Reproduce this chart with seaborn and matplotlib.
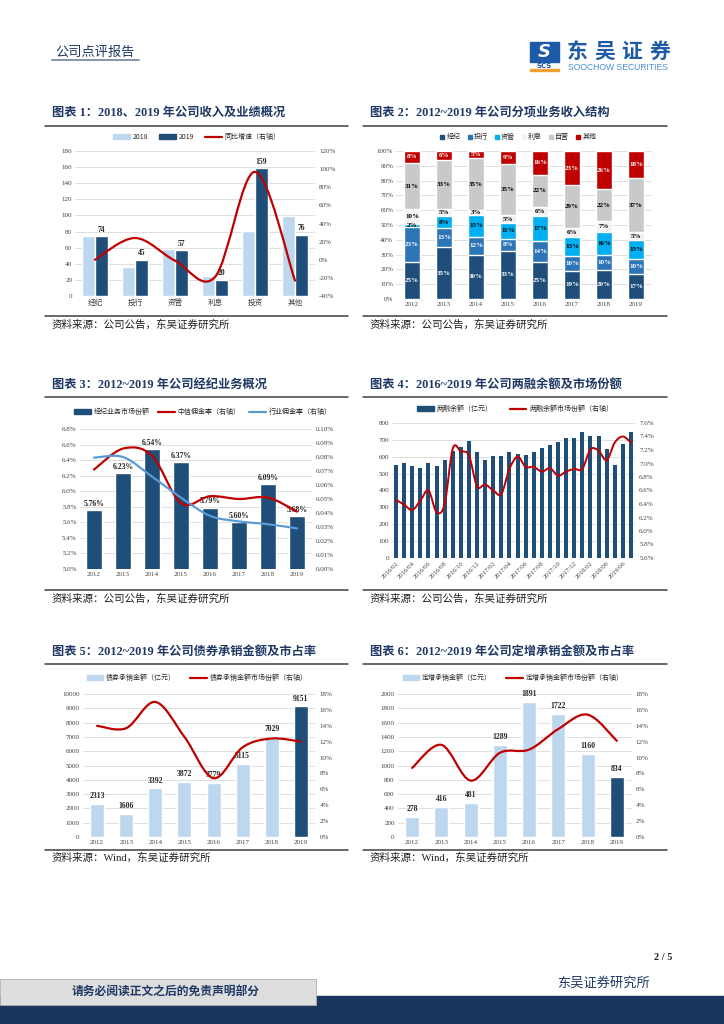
import numpy as np
import pandas as pd
import matplotlib
matplotlib.use("Agg")
import matplotlib.pyplot as plt
import seaborn as sns
from matplotlib.path import Path
from matplotlib.patches import PathPatch, Rectangle, Patch
from matplotlib.lines import Line2D

# ---- data ----
cats1 = ['经纪', '投行', '资管', '利息', '投资', '其他']
rev2018 = [75, 36, 58, 25, 81, 99]
rev2019 = [74, 45, 57, 20, 159, 76]
yoy1 = [0, 24, -1, -19, 97, -23]

years = ['2012', '2013', '2014', '2015', '2016', '2017', '2018', '2019']
mix_names = ['经纪', '投行', '资管', '利息', '自营', '其他']
mix_jingji = [25, 35, 30, 33, 25, 19, 20, 17]
mix_touhang = [23, 13, 12, 8, 14, 10, 10, 10]
mix_ziguan = [2, 8, 15, 11, 17, 13, 16, 13]
mix_lixi = [10, 5, 3, 5, 6, 6, 7, 5]
mix_ziying = [31, 33, 35, 35, 22, 29, 22, 37]
mix_qita = [8, 6, 5, 9, 16, 23, 26, 18]

share3 = [5.76, 6.23, 6.54, 6.37, 5.79, 5.60, 6.09, 5.68]
citic_comm = [0.071, 0.086, 0.081, 0.047, 0.052, 0.050, 0.051, 0.041]
ind_comm = [0.0795, 0.080, 0.066, 0.051, 0.038, 0.034, 0.032, 0.029]

dates4 = ['2016/02', '2016/03', '2016/04', '2016/05', '2016/06', '2016/07', '2016/08',
          '2016/09', '2016/10', '2016/11', '2016/12', '2017/01', '2017/02', '2017/03',
          '2017/04', '2017/05', '2017/06', '2017/07', '2017/08', '2017/09', '2017/10',
          '2017/11', '2017/12', '2018/01', '2018/02', '2018/03', '2018/06', '2018/12',
          '2019/06', '2019/09']
margin_bal = [553, 563, 543, 535, 563, 545, 583, 632, 658, 692, 630, 583, 603, 607, 627,
              619, 613, 627, 652, 672, 686, 711, 711, 749, 721, 721, 648, 553, 676, 747]
margin_share = [6.46, 6.39, 6.31, 6.45, 6.60, 6.28, 6.40, 7.22, 7.18, 7.12, 6.66, 6.69,
                6.60, 6.55, 6.92, 7.10, 6.95, 6.95, 6.88, 6.93, 6.82, 6.88, 6.92, 6.92,
                7.21, 7.19, 7.05, 7.31, 7.40, 7.31]

bond_amt = [2313, 1606, 3392, 3872, 3779, 5115, 7029, 9151]
bond_share = [14.0, 13.7, 17.0, 12.6, 7.4, 11.3, 12.4, 12.0]

pp_amt = [278, 416, 481, 1289, 1891, 1722, 1160, 834]
pp_share = [8.7, 11.6, 7.1, 10.6, 11.0, 13.6, 15.4, 12.1]

# ---- style ----
DARK = '#1f4e79'
LIGHT = '#bdd7ee'
RED = '#c00000'
LBLUE = '#5b9bd5'
TITLE = '#1f3864'
MIX_COLORS = ['#1f4e79', '#2e75b6', '#00b0f0', '#f2f2f2', '#c9c9c9', '#c00000']
CJK = ['Noto Sans CJK SC', 'DejaVu Sans']
SERIF = ['Liberation Serif', 'Noto Sans CJK SC']

sns.set_style('white')
plt.rcParams['font.family'] = SERIF
plt.rcParams['axes.unicode_minus'] = False

W, H = 724, 1024
fig = plt.figure(figsize=(7.24, 10.24), dpi=100)


def px_axes(x0, y0, x1, y1):
    return fig.add_axes([x0 / W, 1 - y1 / H, (x1 - x0) / W, (y1 - y0) / H])


def hline(x0, x1, y, color='#404040', lw=1.0):
    fig.add_artist(Line2D([x0 / W, x1 / W], [1 - y / H, 1 - y / H],
                          transform=fig.transFigure, color=color, lw=lw))


def ftext(x, y, s, **kw):
    fig.text(x / W, 1 - y / H, s, **kw)


def style(ax, grid=True):
    for sp in ax.spines.values():
        sp.set_visible(False)
    ax.tick_params(axis='both', length=0, labelsize=5, colors='#404040', pad=2)
    ax.set_xlabel('')
    ax.set_ylabel('')
    if grid:
        ax.yaxis.grid(True, color='#d9d9d9', lw=0.6)
        ax.set_axisbelow(True)


def twin(ax):
    axr = ax.twinx()
    for sp in axr.spines.values():
        sp.set_visible(False)
    axr.tick_params(axis='both', length=0, labelsize=5, colors='#404040', pad=3)
    axr.grid(False)
    return axr


def smooth(ax, xs, ys, color, lw=1.6):
    # excel-like smoothed line (bezier through the data points)
    pts = np.column_stack([np.asarray(xs, float), np.asarray(ys, float)])
    n = len(pts)
    verts = [pts[0]]
    codes = [Path.MOVETO]
    for i in range(n - 1):
        p0 = pts[max(i - 1, 0)]
        p1 = pts[i]
        p2 = pts[i + 1]
        p3 = pts[min(i + 2, n - 1)]
        verts += [p1 + (p2 - p0) / 6, p2 - (p3 - p1) / 6, p2]
        codes += [Path.CURVE4] * 3
    ax.add_patch(PathPatch(Path(verts, codes), fill=False, edgecolor=color, lw=lw,
                           capstyle='round', joinstyle='round'))


def legend(cx, cy, handles, labels, **kw):
    opts = dict(loc='center', ncol=len(handles), frameon=False, fontsize=5,
                handlelength=2.4, handleheight=0.55, handletextpad=0.4, columnspacing=1.6,
                prop={'family': CJK, 'size': 5})
    opts.update(kw)
    fig.legend(handles, labels, bbox_to_anchor=(cx / W, 1 - cy / H), **opts)


def section(x0, x1, ytitle, yrule, ybottom, ysource, title, source):
    ftext(x0 + 7, ytitle, title, fontsize=8.8, fontweight='bold', color=TITLE,
          va='center', family=SERIF)
    hline(x0, x1, yrule, lw=1.1)
    hline(x0, x1, ybottom, lw=1.1)
    ftext(x0 + 7, ysource, source, fontsize=7.6, color='#202020', va='center', family=SERIF)


# ---- page header / footer ----
ftext(95, 52, '公司点评报告', fontsize=9.5, color=TITLE, ha='center', va='center', family=CJK)
hline(52, 139, 60, color='#8496b0', lw=1.4)
fig.add_artist(Rectangle((530 / W, 1 - 62 / H), 29 / W, 20 / H, transform=fig.transFigure,
                         color='#1e5aa8'))
ftext(544.5, 52, 'S', fontsize=13, fontweight='bold', style='italic', color='white',
      ha='center', va='center', family=['DejaVu Sans'])
ftext(544.5, 66, 'SCS', fontsize=5, fontweight='bold', color='#1e5aa8', ha='center',
      va='center', family=['DejaVu Sans'])
fig.add_artist(Rectangle((530 / W, 1 - 71 / H), 29 / W, 2 / H, transform=fig.transFigure,
                         color='#f0a030'))
for i, ch in enumerate('东吴证券'):
    ftext(577 + 27.5 * i, 51.5, ch, fontsize=15, fontweight='bold', color='#1e5aa8',
          ha='center', va='center', family=CJK)
ftext(617.5, 67, 'SOOCHOW SECURITIES', fontsize=6.2, color='#4a8fd6', ha='center',
      va='center', family=['Liberation Sans'])

ftext(672, 957, '2 / 5', fontsize=7.5, fontweight='bold', ha='right', va='center', family=SERIF)
ftext(603, 983, '东吴证券研究所', fontsize=9.5, color=TITLE, ha='center', va='center', family=CJK)
fig.add_artist(Rectangle((0, 0), 1, 28 / H, transform=fig.transFigure, color='#1b365d'))
fig.add_artist(Rectangle((0, 1 - 1005 / H), 316 / W, 26 / H, transform=fig.transFigure,
                         facecolor='#dedede', edgecolor='#b0b0b0', lw=0.6))
ftext(166, 992, '请务必阅读正文之后的免责声明部分', fontsize=8.5, fontweight='bold',
      color=TITLE, ha='center', va='center', family=CJK)

# ---- sections ----
section(45, 348, 113, 126, 316, 325, '图表 1：2018、2019 年公司收入及业绩概况',
        '资料来源：公司公告，东吴证券研究所')
section(363, 667, 113, 126, 316, 325, '图表 2：2012~2019 年公司分项业务收入结构',
        '资料来源：公司公告，东吴证券研究所')
section(45, 348, 385, 397, 590, 599, '图表 3：2012~2019 年公司经纪业务概况',
        '资料来源：公司公告，东吴证券研究所')
section(363, 667, 385, 397, 590, 599, '图表 4：2016~2019 年公司两融余额及市场份额',
        '资料来源：公司公告，东吴证券研究所')
section(45, 348, 652, 664, 850, 858, '图表 5：2012~2019 年公司债券承销金额及市占率',
        '资料来源：Wind，东吴证券研究所')
section(363, 667, 652, 664, 850, 858, '图表 6：2012~2019 年公司定增承销金额及市占率',
        '资料来源：Wind，东吴证券研究所')

# ---- chart 1 ----
ax1 = px_axes(75, 151, 315, 296)
df1 = pd.DataFrame({'cat': cats1 * 2, 'val': rev2018 + rev2019,
                    'year': ['2018'] * 6 + ['2019'] * 6})
sns.barplot(data=df1, x='cat', y='val', hue='year', palette=[LIGHT, DARK], width=0.64,
            saturation=1, legend=False, ax=ax1)
style(ax1)
ax1.set_xlim(-0.5, 5.5)
ax1.set_ylim(0, 180)
t1 = np.arange(0, 181, 20)
ax1.set_yticks(t1)
ax1.set_yticklabels([str(t) for t in t1])
ax1.set_xticks(range(6))
ax1.set_xticklabels(cats1, family=CJK, fontsize=5.5)
for i, v in enumerate(rev2019):
    ax1.text(i + 0.16, v + 3, str(v), ha='center', va='bottom', fontsize=5.5, fontweight='bold')
ax1r = twin(ax1)
ax1r.set_ylim(-40, 120)
t1r = np.arange(-40, 121, 20)
ax1r.set_yticks(t1r)
ax1r.set_yticklabels([f'{t}%' for t in t1r])
smooth(ax1r, range(6), yoy1, RED)
legend(197, 137,
       [Patch(color=LIGHT), Patch(color=DARK), Line2D([], [], color=RED, lw=1.6)],
       ['2018', '2019', '同比增速（右轴）'])

# ---- chart 2 ----
ax2 = px_axes(396, 151, 652, 299)
mix = np.array([mix_jingji, mix_touhang, mix_ziguan, mix_lixi, mix_ziying, mix_qita], float)
mix_pct = mix / mix.sum(axis=0) * 100
cum = np.cumsum(mix_pct, axis=0)
for k in range(len(mix_names) - 1, -1, -1):
    sns.barplot(x=years, y=cum[k], color=MIX_COLORS[k], saturation=1, width=0.49, ax=ax2)
style(ax2)
ax2.set_xlim(-0.5, 7.5)
ax2.set_ylim(0, 100)
t2 = np.arange(0, 101, 10)
ax2.set_yticks(t2)
ax2.set_yticklabels([f'{t}%' for t in t2])
for k in range(len(mix_names)):
    tc = 'white' if k in (0, 1, 5) else 'black'
    for i in range(len(years)):
        ax2.text(i, cum[k, i] - mix_pct[k, i] / 2, f'{int(mix[k, i])}%', ha='center',
                 va='center', fontsize=5, fontweight='bold', color=tc)
legend(518, 137,
       [Line2D([], [], marker='s', ls='', color=c, markersize=3.5) for c in MIX_COLORS],
       mix_names, handlelength=0.8, handletextpad=0.2, columnspacing=0.9)

# ---- chart 3 ----
ax3 = px_axes(79.5, 429, 311.5, 569)
sns.barplot(x=years, y=share3, color=DARK, saturation=1, width=0.52, ax=ax3)
style(ax3)
ax3.set_xlim(-0.5, 7.5)
ax3.set_ylim(5.0, 6.8)
t3 = np.arange(5.0, 6.81, 0.2)
ax3.set_yticks(t3)
ax3.set_yticklabels([f'{t:.1f}%' for t in t3])
for i, v in enumerate(share3):
    ax3.text(i, v + 0.03, f'{v:.2f}%', ha='center', va='bottom', fontsize=5.5, fontweight='bold')
ax3r = twin(ax3)
ax3r.set_ylim(0, 0.10)
t3r = np.arange(0, 0.1001, 0.01)
ax3r.set_yticks(t3r)
ax3r.set_yticklabels([f'{t:.2f}%' for t in t3r])
smooth(ax3r, range(8), citic_comm, RED)
smooth(ax3r, range(8), ind_comm, LBLUE)
legend(203, 412,
       [Patch(color=DARK), Line2D([], [], color=RED, lw=1.6), Line2D([], [], color=LBLUE, lw=1.6)],
       ['经纪业务市场份额', '中信佣金率（右轴）', '行业佣金率（右轴）'], columnspacing=1.2)

# ---- chart 4 ----
ax4 = px_axes(392, 423, 635, 558)
sns.barplot(x=dates4, y=margin_bal, color=DARK, saturation=1, width=0.5, linewidth=0, ax=ax4)
style(ax4)
ax4.set_xlim(-0.5, len(dates4) - 0.5)
ax4.set_ylim(0, 800)
t4 = np.arange(0, 801, 100)
ax4.set_yticks(t4)
ax4.set_yticklabels([str(t) for t in t4])
ax4.set_xticks(range(0, len(dates4), 2))
ax4.set_xticklabels(dates4[::2], rotation=45, ha='right', rotation_mode='anchor', fontsize=4.8)
ax4r = twin(ax4)
ax4r.set_ylim(5.6, 7.6)
t4r = np.arange(5.6, 7.61, 0.2)
ax4r.set_yticks(t4r)
ax4r.set_yticklabels([f'{t:.1f}%' for t in t4r])
smooth(ax4r, range(len(dates4)), margin_share, RED, lw=1.4)
legend(515, 409,
       [Patch(color=DARK), Line2D([], [], color=RED, lw=1.6)],
       ['两融余额（亿元）', '两融余额市场份额（右轴）'], columnspacing=2.5)

# ---- chart 5 ----
ax5 = px_axes(82.5, 694, 315.5, 837)
sns.barplot(x=years, y=bond_amt, hue=years, palette=[LIGHT] * 7 + [DARK], saturation=1,
            width=0.48, legend=False, ax=ax5)
style(ax5)
ax5.set_xlim(-0.5, 7.5)
ax5.set_ylim(0, 10000)
t5 = np.arange(0, 10001, 1000)
ax5.set_yticks(t5)
ax5.set_yticklabels([str(t) for t in t5])
for i, v in enumerate(bond_amt):
    ax5.text(i, v + 250, str(v), ha='center', va='bottom', fontsize=5.5, fontweight='bold')
ax5r = twin(ax5)
ax5r.set_ylim(0, 18)
t5r = np.arange(0, 19, 2)
ax5r.set_yticks(t5r)
ax5r.set_yticklabels([f'{t}%' for t in t5r])
smooth(ax5r, range(8), bond_share, RED)
legend(197, 678,
       [Patch(color=LIGHT), Line2D([], [], color=RED, lw=1.6)],
       ['债券承销金额（亿元）', '债券承销金额市场份额（右轴）'], columnspacing=2.0)

# ---- chart 6 ----
ax6 = px_axes(397.5, 694, 631.5, 837)
sns.barplot(x=years, y=pp_amt, hue=years, palette=[LIGHT] * 7 + [DARK], saturation=1,
            width=0.48, legend=False, ax=ax6)
style(ax6)
ax6.set_xlim(-0.5, 7.5)
ax6.set_ylim(0, 2000)
t6 = np.arange(0, 2001, 200)
ax6.set_yticks(t6)
ax6.set_yticklabels([str(t) for t in t6])
for i, v in enumerate(pp_amt):
    ax6.text(i, v + 55, str(v), ha='center', va='bottom', fontsize=5.5, fontweight='bold')
ax6r = twin(ax6)
ax6r.set_ylim(0, 18)
t6r = np.arange(0, 19, 2)
ax6r.set_yticks(t6r)
ax6r.set_yticklabels([f'{t}%' for t in t6r])
smooth(ax6r, range(8), pp_share, RED)
legend(513, 678,
       [Patch(color=LIGHT), Line2D([], [], color=RED, lw=1.6)],
       ['定增承销金额（亿元）', '定增承销金额市场份额（右轴）'], columnspacing=2.0)

fig.savefig('out.png', dpi=100, facecolor='white')
